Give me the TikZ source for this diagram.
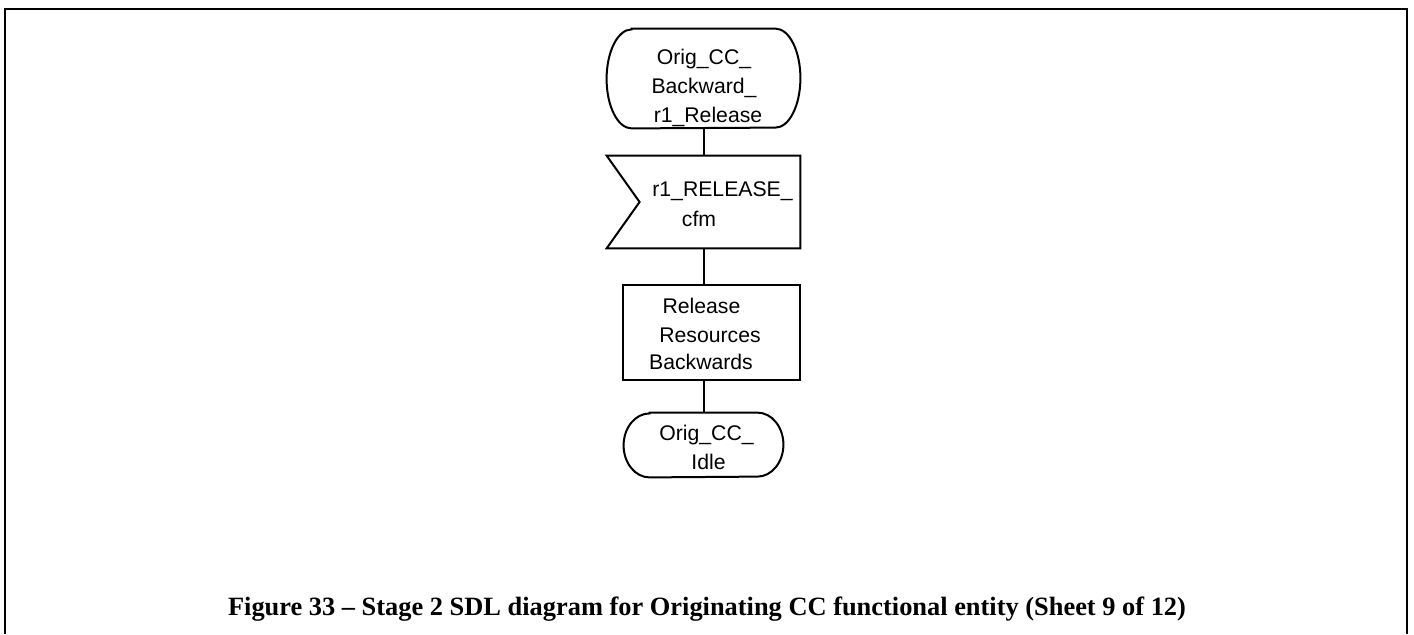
\documentclass[tikz,border=0pt]{standalone}
\usepackage{fontspec}
\setmainfont{Liberation Serif}
\newfontfamily\arialf{Liberation Sans}
\usetikzlibrary{calc}
\begin{document}
\begin{tikzpicture}[x=0.5pt,y=-0.5pt,
  frameline/.style={line width=1.2pt},
  sdlline/.style={line width=1pt},
  taskbox/.style={draw, line width=1pt, inner sep=0pt},
  ghost/.style={inner sep=0pt},
  lbl/.style={font=\arialf\fontsize{10.6}{12}\selectfont, anchor=base, inner sep=0pt},
  captext/.style={font=\bfseries\fontsize{13.2}{15}\selectfont, anchor=base, inner sep=0pt}]
\useasboundingbox (0,0) rectangle (1414,634);
\draw[frameline] (5,634) -- (5,9) -- (1407,9) -- (1407,634);
% start state (elliptical ends)
\node[ghost, minimum width=96.5pt, minimum height=49.5pt] (start) at (703.5,78.5) {};
\draw[sdlline] ($(start.north west)+(12.5pt,0)$) -- ($(start.north east)+(-12.5pt,0)$)
  arc[start angle=90, end angle=-90, x radius=12.5pt, y radius=24.75pt]
  -- ($(start.south west)+(12.5pt,0)$)
  arc[start angle=270, end angle=90, x radius=12.5pt, y radius=24.75pt] -- cycle;
% input signal
\node[ghost, minimum width=96.5pt, minimum height=46pt] (in) at (703.5,202) {};
\draw[sdlline] (in.north west) -- (in.north east) -- (in.south east) -- (in.south west) -- ($(in.west)+(33,0)$) -- cycle;
% task
\node[taskbox, minimum width=88.5pt, minimum height=47.5pt] (task) at (711.5,332.5) {};
% end state
\node[ghost, minimum width=79.5pt, minimum height=32pt] (end) at (703.5,445) {};
\draw[sdlline] ($(end.north west)+(13pt,0)$) -- ($(end.north east)+(-13pt,0)$)
  arc[start angle=90, end angle=-90, x radius=13pt, y radius=16pt]
  -- ($(end.south west)+(13pt,0)$)
  arc[start angle=270, end angle=90, x radius=13pt, y radius=16pt] -- cycle;
% connectors
\draw[sdlline] (start.south) -- (in.north);
\draw[sdlline] (in.south) -- (in.south |- task.north);
\draw[sdlline] (task.south -| end.north) -- (end.north);
% labels
\node[lbl] (s1) at (704,64) {Orig\_CC\_};
\node[lbl] (s2) at (704,93) {Backward\_};
\node[lbl] (s3) at (708,122) {r1\_Release};
\node[lbl] (i1) at (722.5,196) {r1\_RELEASE\_};
\node[lbl] (i2) at (699,226) {cfm};
\node[lbl] (t1) at (701.5,313) {Release};
\node[lbl] (t2) at (710,342) {Resources};
\node[lbl] (t3) at (701,369) {Backwards};
\node[lbl] (e1) at (706.5,440) {Orig\_CC\_};
\node[lbl] (e2) at (708.5,469) {Idle};
\node[captext] (caption) at (707,615) {Figure 33 -- Stage 2 SDL diagram for Originating CC functional entity (Sheet 9 of 12)};
\end{tikzpicture}
\end{document}
